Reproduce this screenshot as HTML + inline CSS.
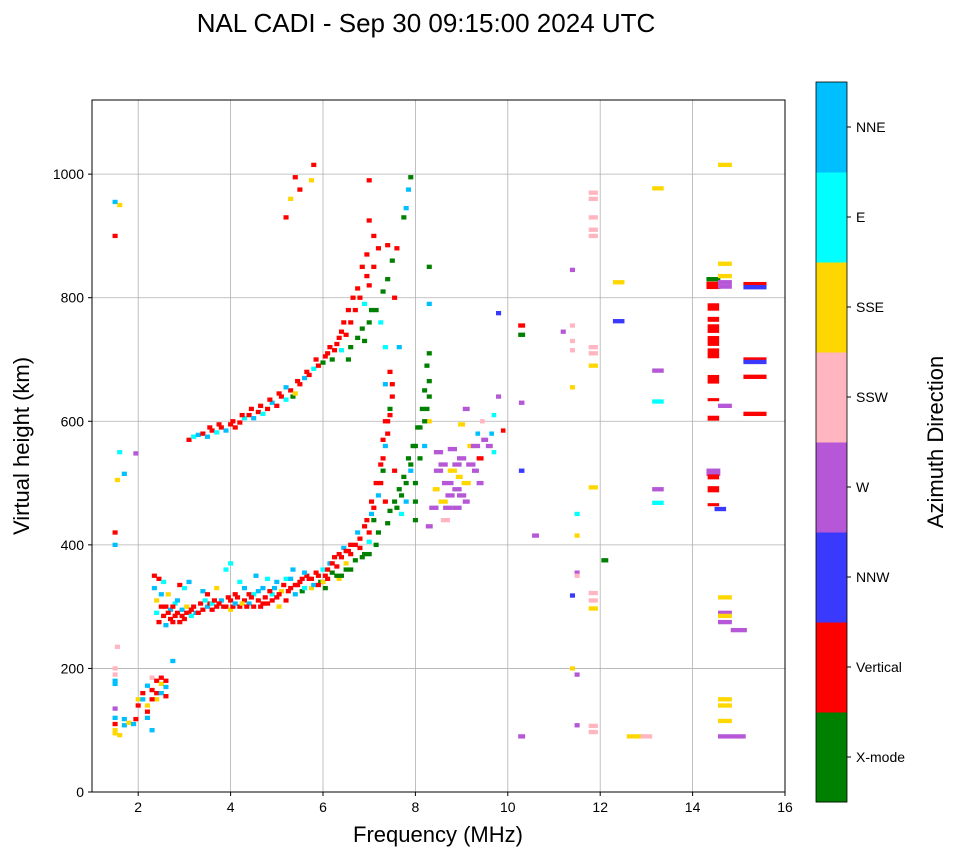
<!DOCTYPE html>
<html><head><meta charset="utf-8">
<style>
html,body{margin:0;padding:0;background:#fff;}
svg text{font-family:"Liberation Sans",sans-serif;fill:#000;}
</style></head>
<body>
<svg id="chart" width="958" height="857" xmlns="http://www.w3.org/2000/svg">
<text x="426" y="32" font-size="26" text-anchor="middle">NAL CADI - Sep 30 09:15:00 2024 UTC</text>
<g id="grid"></g>
<g id="marks"></g>
<rect x="92" y="100" width="693" height="692" fill="none" stroke="#000" stroke-width="1"/>
<g id="axes"></g>
<text x="438" y="842" font-size="22" text-anchor="middle">Frequency (MHz)</text>
<text x="0" y="0" font-size="22" text-anchor="middle" transform="translate(29,446) rotate(-90)">Virtual height (km)</text>
<g id="cbar"></g>
<text x="0" y="0" font-size="22" text-anchor="middle" transform="translate(943,442) rotate(-90)">Azimuth Direction</text>
</svg>
<script>
const xTicks=[2,4,6,8,10,12,14,16];
const yTicks=[0,200,400,600,800,1000];
const directions=["X-mode","Vertical","NNW","W","SSW","SSE","E","NNE"];
const dirColors=["#008000","#ff0000","#3a3aff","#b557d6","#ffb6c1","#ffd700","#00ffff","#00bfff"];
// freq MHz, height km, direction index, [width MHz], [height km]
const echoes=[
[1.5,420,1],[1.5,900,1],[1.5,955,7],[1.6,950,5],[1.6,550,6],[1.95,548,3],[1.55,505,5],[1.7,515,7],[1.5,400,7],[1.55,235,4],
[1.5,200,4],[1.5,190,4],[1.5,180,7],[1.5,175,7],[1.5,135,3],[1.5,120,7],[1.5,110,1],[1.5,100,5],[1.5,95,5],[1.6,92,5],[1.7,118,7],[1.7,108,7],[1.8,112,5],[1.9,110,7],[1.95,118,1],[2.0,150,5],[2.0,140,1],[2.1,160,1],[2.1,150,7],[2.2,172,7],[2.2,130,1],[2.2,140,5],[2.3,185,4],[2.3,165,1],[2.3,100,7],[2.4,180,1],[2.4,160,1],[2.4,150,5],[2.5,175,5],[2.5,160,7],[2.6,170,7],[2.6,180,1],[2.75,212,7],[2.2,120,7],[2.3,150,1],[2.5,185,1],[2.6,155,1],
[2.35,350,1],[2.35,330,7],[2.4,310,5],[2.4,290,6],[2.45,275,1],[2.45,345,1],[2.5,300,1],[2.5,320,7],[2.55,285,1],[2.6,270,7],[2.6,300,1],[2.65,320,5],[2.7,280,1],[2.7,295,7],[2.75,275,1],[2.8,305,6],[2.8,285,1],[2.85,290,1],[2.9,275,1],[2.9,335,1],[2.95,295,7],[3.0,280,1],[3.0,330,6],[3.05,290,1],[3.1,290,1],[3.1,340,7],[3.15,285,6],[3.2,300,1],[3.25,290,7],[3.3,290,1],[3.4,295,1],[3.4,325,7],[3.5,300,7],[3.5,320,1],[3.55,305,1],[3.6,305,6],[3.65,310,1],[3.7,300,1],[3.7,330,5],[3.8,310,7],[3.85,300,1],[3.9,300,1],[3.9,360,6],[4.0,310,1],[4.0,295,5],[4.0,370,6],[4.05,300,1],[4.1,305,7],[4.15,315,1],[4.2,300,1],[4.2,340,6],[4.3,310,1],[4.3,330,7],[4.4,305,7],[4.4,320,1],[4.5,320,6],[4.5,300,1],[4.55,350,7],[4.6,310,1],[4.7,330,7],[4.7,305,1],[4.8,305,1],[4.8,345,6],[4.9,320,6],[4.9,310,1],[5.0,315,1],[5.0,340,7],[5.05,300,5],[5.1,325,5],[5.2,310,1],[5.2,345,6],[5.25,325,1],[5.3,330,1],[5.35,360,7],[5.4,320,7],[5.45,335,1],[5.5,340,1],[5.55,325,0],[5.6,330,6],[5.65,350,1],[5.7,345,1],[5.75,330,5],[5.8,335,7],[5.85,355,1],[5.9,350,1],[5.95,340,0],[6.0,340,5],[6.0,360,6],[6.05,350,1],[6.1,345,1],[6.15,370,7],[6.2,355,0],[6.25,380,1],[6.3,365,1],[6.35,345,5],[6.4,350,0],[6.4,380,1],[6.45,395,7],[6.5,370,5],[6.55,390,1],[6.6,385,1],[6.6,360,0],[6.7,375,0],[6.7,400,1],[6.75,420,7],[6.8,395,1],[6.85,380,0],[6.9,385,0],[6.9,430,1],[7.0,405,6],[7.0,420,1],[7.0,385,0],[7.05,450,7],[7.1,440,0],[7.1,460,1],[7.15,400,0],[7.2,480,7],[7.2,420,0],[7.25,500,1],[7.3,520,0],[7.3,540,1],[7.35,560,7],[7.35,470,1],[7.4,580,1],[7.4,600,1],[7.4,435,0],[7.45,620,0],[7.5,640,1],[7.5,660,1],[7.55,520,1],[7.45,455,0],[7.55,470,0],
[2.55,340,6],[2.65,290,1],[2.75,300,1],[2.85,310,7],[2.95,285,1],[3.05,300,5],[3.15,295,1],[3.35,305,1],[3.45,310,6],[3.6,295,1],[3.75,305,1],[3.95,315,1],[4.1,320,1],[4.25,305,5],[4.35,300,1],[4.45,315,1],[4.6,325,7],[4.65,300,1],[4.75,315,1],[4.85,325,1],[4.95,330,7],[5.05,320,1],[5.15,335,1],[5.3,345,7],[5.4,335,1],[5.55,345,1],[5.6,355,7],[5.75,345,1],[5.9,335,1],[6.05,330,0],[6.1,360,1],[6.2,370,1],[6.3,350,0],[6.35,385,1],[6.5,390,1],[6.5,360,0],[6.6,400,1],[6.8,410,1],[6.95,440,1],[7.05,470,1],[7.15,500,1],[7.25,530,1],[7.3,570,1],[7.35,600,1],[7.45,610,1],[7.45,680,1],[7.35,660,7],
[7.6,460,0],[7.65,490,0],[7.7,480,0],[7.75,510,0],[7.8,500,0],[7.85,540,0],[7.9,530,0],[7.95,560,0],[8.0,560,0],[8.0,500,0],[8.0,470,0],[8.0,440,0],[8.05,590,0],[8.1,590,0],[8.15,620,0],[8.2,650,0],[8.25,690,0],[8.3,710,0],[8.3,850,0],[8.3,790,7],[8.3,640,0],[8.3,600,5],[7.7,450,6],[7.8,470,7],[7.9,520,7],[8.1,540,0],[8.2,560,7],[8.2,600,0],[8.25,620,0],[8.3,665,0],
[8.3,430,3,0.15],[8.4,460,3,0.2],[8.45,490,5,0.15],[8.5,520,3,0.2],[8.5,550,3,0.2],[8.6,470,5,0.2],[8.65,440,4,0.2],[8.7,500,3,0.25],[8.75,480,3,0.2],[8.8,520,5,0.2],[8.8,555,3,0.2],[8.9,460,3,0.2],[8.9,490,3,0.2],[8.95,510,5,0.15],[9.0,540,3,0.2],[9.0,595,5,0.15],[9.1,620,3,0.15],[9.1,470,3,0.15],[9.2,560,5,0.15],[9.3,520,3,0.15],[9.35,580,7,0.1],[9.4,540,1,0.15],[9.45,600,4,0.1],[9.6,560,3,0.15],[9.65,580,7,0.1],[9.7,550,6,0.1],[9.7,610,6,0.1],[9.9,585,1,0.1],
[8.6,530,3,0.2],[8.7,460,3,0.2],[8.9,530,3,0.2],[9.0,480,3,0.2],[9.1,500,5,0.2],[9.2,530,3,0.2],[9.3,560,3,0.2],[9.4,500,3,0.15],[9.5,570,3,0.15],
[3.1,570,1],[3.2,575,6],[3.3,578,7],[3.4,580,1],[3.5,575,7],[3.6,585,1],[3.7,582,6],[3.8,590,1],[3.9,585,7],[4.0,595,1],[4.1,590,1],[4.2,598,1],[4.3,605,6],[4.4,610,1],[4.5,605,7],[4.6,615,1],[4.7,612,6],[4.8,620,1],[4.9,630,7],[5.0,625,1],[5.1,640,1],[5.2,635,6],[5.3,650,1],[5.35,640,0],[5.4,645,5],[5.5,660,1],[5.6,670,7],[5.7,675,1],[5.8,685,6],[5.9,690,1],[6.0,695,0],[6.05,705,1],[6.1,710,1],[6.2,700,0],[6.25,715,1],[6.3,725,1],[6.4,715,6],[6.4,745,1],[6.5,740,1],[6.55,700,0],[6.6,760,1],[6.6,720,0],[6.7,780,1],[6.75,735,0],[6.8,800,1],[6.85,750,0],[6.9,790,6],[6.95,835,1],[7.0,820,1],[7.0,760,0],[7.1,850,1],[7.1,900,1],[7.15,780,0],[7.2,880,1],[7.3,810,0],[7.35,720,6],[7.4,830,0],[7.4,885,1],[7.5,860,0],[7.55,800,1],[7.6,880,1],[7.65,720,7],[7.75,930,0],[7.8,945,7],[7.85,975,7],[7.9,995,0],
[3.55,590,1],[3.75,595,1],[4.05,600,1],[4.25,610,1],[4.45,620,1],[4.65,625,1],[4.85,635,1],[5.05,645,1],[5.2,655,7],[5.45,665,1],[5.65,680,1],[5.85,700,1],[6.15,720,1],[6.35,735,1],[6.45,760,1],[6.55,780,1],[6.65,800,1],[6.75,815,1],[6.85,850,1],[6.95,870,1],[6.9,730,0],[7.05,780,0],[7.25,760,6],
[5.2,930,1],[5.3,960,5],[5.4,995,1],[5.5,975,1],[5.8,1015,1],[5.75,990,5],[7.0,990,1],[7.0,925,1],
[9.8,775,2],[9.8,640,3],[10.3,755,1,0.15],[10.3,740,0,0.15],[10.3,630,3,0.12],[10.3,520,2,0.12],[10.6,415,3,0.15],[10.3,90,3,0.15],
[11.2,745,3],[11.4,845,3],[11.4,755,4],[11.4,730,4],[11.4,715,4],[11.4,655,5],[11.5,450,6],[11.5,415,5],[11.5,355,3],[11.5,350,4],[11.4,318,2],[11.4,200,5],[11.5,190,3],[11.5,108,3],
[11.85,970,4,0.2],[11.85,960,4,0.2],[11.85,930,4,0.2],[11.85,910,4,0.2],[11.85,900,4,0.2],[11.85,720,4,0.2],[11.85,710,4,0.2],[11.85,690,5,0.2],[11.85,493,5,0.2],[11.85,322,4,0.2],[11.85,310,4,0.2],[11.85,297,5,0.2],[11.85,107,4,0.2],[11.85,97,4,0.2],
[12.1,375,0,0.15],[12.4,825,5,0.25],[12.4,762,2,0.25],[12.75,90,5,0.35],[13.0,90,4,0.25],[13.25,977,5,0.25],[13.25,682,3,0.25],[13.25,632,6,0.25],[13.25,490,3,0.25],[13.25,468,6,0.25],
[14.45,830,0,0.3],[14.45,820,1,0.3,12],[14.45,785,1,0.25,12],[14.45,765,1,0.25,8],[14.45,750,1,0.25,14],[14.45,730,1,0.25,16],[14.45,710,1,0.25,16],[14.45,668,1,0.25,14],[14.45,635,1,0.25,5],[14.45,605,1,0.25,8],[14.45,520,3,0.3],[14.45,515,3,0.3],[14.45,510,1,0.25,8],[14.45,490,1,0.25,10],[14.45,465,1,0.25,5],
[14.7,1015,5,0.3],[14.7,855,5,0.3],[14.7,835,5,0.3],[14.7,825,3,0.3],[14.7,818,3,0.3],[14.7,625,3,0.3],[14.6,458,2,0.25],[14.7,315,5,0.3],[14.7,290,3,0.3],[14.7,285,5,0.3],[14.7,275,3,0.3],[15.0,262,3,0.35],[14.7,150,5,0.3],[14.7,140,5,0.3],[14.7,115,5,0.3],[14.85,90,3,0.6],
[15.35,822,1,0.5],[15.35,817,2,0.5],[15.35,700,1,0.5],[15.35,696,2,0.5],[15.35,672,1,0.5],[15.35,612,1,0.5]
];
const NS="http://www.w3.org/2000/svg";
const X0=92,X1=785,Y0=792,Y1=100,FMIN=1,FMAX=16,HMAX=1120;
function sx(f){return X0+(f-FMIN)/(FMAX-FMIN)*(X1-X0);}
function sy(h){return Y0-h/HMAX*(Y0-Y1);}
function mk(tag,attrs,parent){const e=document.createElementNS(NS,tag);for(const k in attrs)e.setAttribute(k,attrs[k]);parent.appendChild(e);return e;}
const grid=document.getElementById('grid'),axes=document.getElementById('axes'),marks=document.getElementById('marks'),cbar=document.getElementById('cbar');
xTicks.forEach(t=>{
  const x=sx(t);
  if(t<FMAX){const g=mk('line',{x1:x,x2:x,y1:Y1,y2:Y0,stroke:'#b0b0b0','stroke-width':0.8},grid);
  
  }
  mk('line',{x1:x,x2:x,y1:Y0,y2:Y0+4,stroke:'#000'},axes);
  const l=mk('text',{x:x,y:Y0+20,'font-size':14,'text-anchor':'middle'},axes);l.textContent=t;
  
  
});
yTicks.forEach(t=>{
  const y=sy(t);
  const g=mk('line',{x1:X0,x2:X1,y1:y,y2:y,stroke:'#b0b0b0','stroke-width':0.8},grid);
  
  
  mk('line',{x1:X0-4,x2:X0,y1:y,y2:y,stroke:'#000'},axes);
  const l=mk('text',{x:X0-8,y:y+5,'font-size':14,'text-anchor':'end'},axes);l.textContent=t;
  
  
});
echoes.forEach(p=>{
  const w=p[3]||0.11,hh=p[4]||7;
  const x=sx(p[0]-w/2),y=sy(p[1]+hh/2);
  const r=mk('rect',{x:x,y:y,width:sx(p[0]+w/2)-x,height:sy(p[1]-hh/2)-y,fill:dirColors[p[2]]},marks);
  
  
});
const CX=816,CW=31,CT=82,CB=802,seg=(CB-CT)/directions.length;
directions.forEach((d,i)=>{
  const y=CB-(i+1)*seg;
  const r=mk('rect',{x:CX,y:y,width:CW,height:seg+0.5,fill:dirColors[i]},cbar);
  
  
  const yc=y+seg/2;
  mk('line',{x1:CX+CW,x2:CX+CW+4,y1:yc,y2:yc,stroke:'#000'},cbar);
  const t=mk('text',{x:CX+CW+9,y:yc+5,'font-size':14},cbar);t.textContent=d;
  
  
});
mk('rect',{x:CX,y:CT,width:CW,height:CB-CT,fill:'none',stroke:'#000','stroke-width':0.8},cbar);
</script>
</body></html>
